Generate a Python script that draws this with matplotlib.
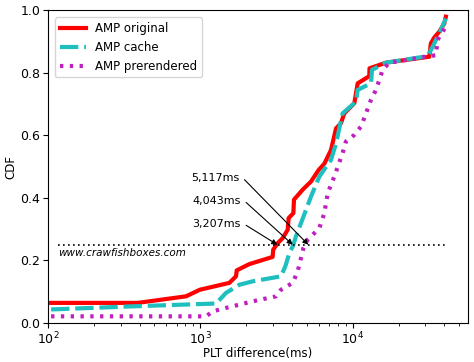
import numpy as np
import matplotlib.pyplot as plt

# curves (PLT difference in ms, CDF)
orig_x = [105, 389, 807, 993, 1553, 1717, 1735, 2098, 2985, 3010, 3222, 3474, 3748,
          3800, 4084, 4120, 4700, 5330, 5985, 6518, 7210, 7780, 8380, 8810, 10250,
          10790, 12860, 12900, 16560, 31840, 32600, 34400, 37000, 39900, 40900]
orig_y = [0.064, 0.064, 0.085, 0.106, 0.128, 0.149, 0.168, 0.188, 0.211, 0.234, 0.255,
          0.271, 0.298, 0.335, 0.351, 0.394, 0.426, 0.452, 0.489, 0.509, 0.553, 0.622,
          0.638, 0.670, 0.702, 0.766, 0.789, 0.814, 0.832, 0.851, 0.894, 0.913, 0.931,
          0.957, 0.979]

cache_x = [105, 361, 1270, 1476, 1806, 2210, 3387, 3616, 3843, 4045, 4250, 4893, 5330,
           6045, 7210, 7780, 8590, 10520, 10790, 13190, 13400, 16560, 31050, 33500,
           37000, 40900]
cache_y = [0.043, 0.053, 0.062, 0.096, 0.122, 0.133, 0.149, 0.181, 0.223, 0.245, 0.277,
           0.356, 0.404, 0.468, 0.521, 0.574, 0.670, 0.707, 0.745, 0.766, 0.809, 0.832,
           0.853, 0.883, 0.926, 0.973]

pre_x = [105, 1092, 1208, 1476, 2210, 3143, 3387, 4045, 4357, 4580, 4750, 5070, 6045,
         6518, 6860, 7580, 8590, 9030, 10250, 11350, 12230, 13190, 14220, 15740, 17380,
         30270, 35200, 36000, 41950]
pre_y = [0.021, 0.021, 0.037, 0.048, 0.069, 0.085, 0.106, 0.128, 0.165, 0.207, 0.239,
         0.266, 0.303, 0.351, 0.415, 0.468, 0.543, 0.580, 0.601, 0.628, 0.670, 0.713,
         0.745, 0.809, 0.832, 0.851, 0.856, 0.904, 0.957]

median_ms = [3207, 4043, 5117]
median_labels = ["3,207ms", "4,043ms", "5,117ms"]
label_y = [0.317, 0.390, 0.463]
tail_x = [2000, 2000, 1950]
line_level = 0.25

fig = plt.figure(figsize=(4.74, 3.62), dpi=100)
ax = fig.add_axes([0.101, 0.108, 0.886, 0.864])

ax.plot(orig_x, orig_y, color="red", lw=3, label="AMP original")
ax.plot(cache_x, cache_y, color="#1fbfbf", lw=3, ls=(0, (4.4, 1.4)), label="AMP cache")
ax.plot(pre_x, pre_y, color="#c020c0", lw=3, ls=(0, (0.8, 1.55)), label="AMP prerendered")

ax.plot([116, 41000], [line_level, line_level], color="black", lw=1.2, ls=(0, (1, 2)))

for ms, lab, ly, tx in zip(median_ms, median_labels, label_y, tail_x):
    ax.annotate("", xy=(ms, line_level), xytext=(tx, ly - 0.005),
                arrowprops=dict(arrowstyle="-|>", color="black", lw=0.8,
                                mutation_scale=8, shrinkA=0, shrinkB=0))
    ax.text(tx * 0.92, ly, lab, fontsize=8, ha="right", va="center")

ax.text(116, 0.223, "www.crawfishboxes.com", fontsize=7.5, style="italic", va="center")

ax.set_xscale("log")
ax.set_xlim(100, 57000)
ax.set_ylim(0, 1.0)
ax.set_yticks([0, 0.2, 0.4, 0.6, 0.8, 1.0])
ax.tick_params(labelsize=9, pad=2)
ax.set_xlabel("PLT difference(ms)", fontsize=8.5, labelpad=0)
ax.set_ylabel("CDF", fontsize=8.5, labelpad=2)
ax.legend(loc="upper left", fontsize=8.5, handlelength=2.2, borderaxespad=0.6)

fig.savefig("out.png", dpi=100)
